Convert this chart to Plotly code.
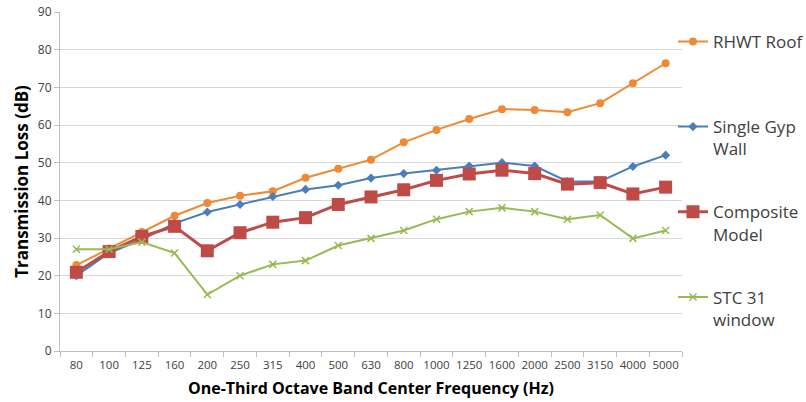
import plotly.graph_objects as go

freqs = ["80", "100", "125", "160", "200", "250", "315", "400", "500", "630",
         "800", "1000", "1250", "1600", "2000", "2500", "3150", "4000", "5000"]
rhwt_roof = [22.8, 27.2, 31.6, 35.9, 39.3, 41.2, 42.4, 46.0, 48.4, 50.8,
             55.4, 58.7, 61.6, 64.2, 64.0, 63.4, 65.8, 71.1, 76.4]
single_gyp = [20.0, 26.0, 29.6, 33.9, 36.9, 38.9, 41.0, 42.9, 44.0, 45.9,
              47.1, 48.0, 49.1, 50.0, 49.1, 45.0, 45.0, 49.0, 52.0]
composite = [20.9, 26.4, 30.4, 33.1, 26.6, 31.4, 34.2, 35.4, 38.9, 40.9,
             42.8, 45.3, 47.0, 48.0, 47.1, 44.3, 44.7, 41.7, 43.5]
stc31 = [27.0, 27.0, 28.9, 26.0, 15.0, 20.0, 23.0, 24.0, 28.0, 29.9,
         32.0, 35.0, 37.0, 38.0, 37.0, 35.0, 36.1, 29.9, 32.0]
y_ticks = [0, 10, 20, 30, 40, 50, 60, 70, 80, 90]
legend_names = ["RHWT Roof<br> ", "Single Gyp<br>Wall", "Composite<br>Model", "STC 31<br>window"]

FONT = "Open Sans"
fig = go.Figure()
styles = [
    ("#EE8A35", 2, dict(symbol="circle", size=8)),
    ("#4A7EBB", 2, dict(symbol="diamond", size=7)),
    ("#BE4B48", 3, dict(symbol="square", size=13)),
    ("#98B954", 2, dict(symbol="x-thin-open", size=7, line=dict(width=1.5, color="#98B954"))),
]
for i, (name, vals) in enumerate(zip(legend_names, [rhwt_roof, single_gyp, composite, stc31])):
    color, lw, mk = styles[i]
    fig.add_trace(go.Scatter(
        x=freqs, y=vals, name=name, mode="lines+markers",
        line=dict(color=color, width=lw),
        marker=dict(color=color, **mk),
        legendgroup=str(i),
    ))

fig.update_layout(
    width=806, height=402,
    margin=dict(l=60, r=124, t=12, b=51, autoexpand=False),
    paper_bgcolor="white", plot_bgcolor="white",
    font=dict(family=FONT, color="#404040"),
    showlegend=True,
    legend=dict(
        x=0.9855, xanchor="left", y=0.965, yanchor="top",
        bgcolor="rgba(0,0,0,0)",
        font=dict(family=FONT, size=17, color="#404040"),
        tracegroupgap=38, traceorder="grouped", valign="top",
        itemwidth=30,
    ),
    xaxis=dict(
        type="category", range=[-0.5, 18.5],
        showgrid=False, showline=True, linecolor="#BFBFBF", linewidth=1,
        ticks="outside", tickson="boundaries", ticklen=5, tickcolor="#BFBFBF",
        tickangle=0, ticklabelstandoff=3,
        tickfont=dict(family=FONT, size=11.5, color="#404040"),
        title=dict(text="<b>One-Third Octave Band Center Frequency (Hz)</b>",
                   font=dict(family=FONT, size=16, color="#000000"), standoff=12),
    ),
    yaxis=dict(
        range=[0, 90], tickvals=y_ticks, showgrid=True, gridcolor="#D9D9D9",
        gridwidth=1, showline=True, linecolor="#BFBFBF", linewidth=1,
        ticks="outside", ticklen=5, tickcolor="#BFBFBF", zeroline=False,
        tickfont=dict(family=FONT, size=12, color="#404040"),
        title=dict(text="<b>Transmission Loss (dB)</b>",
                   font=dict(family=FONT, size=17, color="#000000"), standoff=4),
    ),
)
fig.write_html("out.html")
